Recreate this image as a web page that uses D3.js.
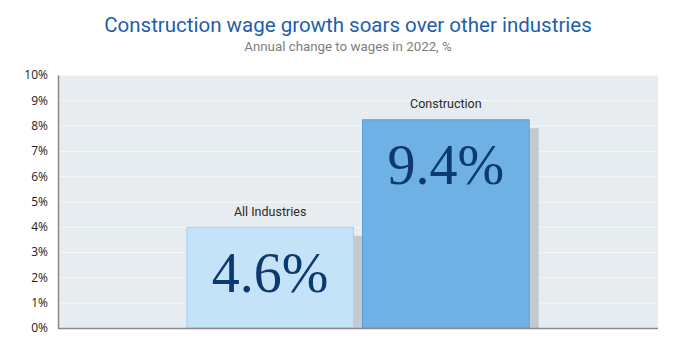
<!DOCTYPE html>
<meta charset="utf-8">
<script src="https://d3js.org/d3.v7.min.js"></script>
<style>
  body { margin: 0; background: #fff; }
  text { font-family: Roboto, sans-serif; }
</style>
<div id="chart"></div>
<script>
// Data
var categories = ["All Industries", "Construction"];
var valueLabels = ["4.6%", "9.4%"];
var barHeights = [4.0, 8.25];   // drawn height of each bar, in % units on the axis
var yTicks = [0, 1, 2, 3, 4, 5, 6, 7, 8, 9, 10];
var barFills = ["#c4e2f8", "#6fb1e4"];
var barStrokes = ["#a8d1f0", "#5b9fd9"];

var W = 696, H = 361;
var margin = {top: 75, right: 38, bottom: 33, left: 58},
    width = W - margin.left - margin.right,
    height = H - margin.top - margin.bottom;

var svg = d3.select("#chart")
  .append("svg")
    .attr("width", W)
    .attr("height", H);

// Titles
svg.append("text")
  .attr("x", W / 2).attr("y", 32)
  .attr("text-anchor", "middle")
  .style("font-size", "20.5px")
  .style("fill", "#1d5eae")
  .text("Construction wage growth soars over other industries");

svg.append("text")
  .attr("x", W / 2).attr("y", 51)
  .attr("text-anchor", "middle")
  .style("font-size", "13.3px")
  .style("fill", "#7d7d7d")
  .text("Annual change to wages in 2022, %");

var g = svg.append("g")
  .attr("transform", "translate(" + margin.left + "," + margin.top + ")");

var x = d3.scaleBand()
  .domain(categories)
  .range([0, width])
  .paddingInner(0.046)
  .paddingOuter(0.73);

var y = d3.scaleLinear()
  .domain([0, 10])
  .range([height, 0]);

// Plot background
g.append("rect")
  .attr("width", width).attr("height", height)
  .style("fill", "#e6ecef");

// Grid lines
g.selectAll(".grid")
  .data(yTicks.slice(1))
  .enter().append("line")
    .attr("x1", 0).attr("x2", width)
    .attr("y1", function(d) { return y(d) + 0.5; })
    .attr("y2", function(d) { return y(d) + 0.5; })
    .style("stroke", "#f6f8f9")
    .style("stroke-width", 1);

// Y axis
var yAxis = g.append("g")
  .call(d3.axisLeft(y).tickValues(yTicks).tickSize(0).tickPadding(10)
    .tickFormat(function(d) { return d + "%"; }));
yAxis.select(".domain").style("stroke", "#8a8a8a").style("stroke-width", 1.5);
yAxis.selectAll("text")
  .style("font-family", "'Open Sans', sans-serif")
  .style("font-size", "12px")
  .style("fill", "#222");

// Shadows
var shadowOff = 9;
g.selectAll(".shadow")
  .data(categories)
  .enter().append("rect")
    .attr("x", function(d) { return x(d) + shadowOff; })
    .attr("y", function(d, i) { return y(barHeights[i]) + shadowOff; })
    .attr("width", x.bandwidth())
    .attr("height", function(d, i) { return height - y(barHeights[i]) - shadowOff; })
    .style("fill", "#c3c9ce");

// Bars
g.selectAll(".bar")
  .data(categories)
  .enter().append("rect")
    .attr("x", function(d) { return x(d) + 0.5; })
    .attr("y", function(d, i) { return y(barHeights[i]) + 0.5; })
    .attr("width", x.bandwidth() - 1)
    .attr("height", function(d, i) { return height - y(barHeights[i]) - 0.5; })
    .style("fill", function(d, i) { return barFills[i]; })
    .style("stroke", function(d, i) { return barStrokes[i]; })
    .style("stroke-width", 1);

// Bottom axis line
g.append("line")
  .attr("x1", 0).attr("x2", width)
  .attr("y1", height + 0.5).attr("y2", height + 0.5)
  .style("stroke", "#8a8a8a")
  .style("stroke-width", 1.5);

// Category labels
g.selectAll(".cat")
  .data(categories)
  .enter().append("text")
    .attr("x", function(d) { return x(d) + x.bandwidth() / 2; })
    .attr("y", function(d, i) { return y(barHeights[i]) - 11; })
    .attr("text-anchor", "middle")
    .style("font-size", "12.5px")
    .style("fill", "#2b2b2b")
    .text(function(d) { return d; });

// Value labels
g.selectAll(".val")
  .data(categories)
  .enter().append("text")
    .attr("x", function(d) { return x(d) + x.bandwidth() / 2; })
    .attr("y", function(d, i) { return y(barHeights[i]) + 65; })
    .attr("text-anchor", "middle")
    .style("font-family", "'Liberation Serif', serif")
    .style("font-size", "56px")
    .style("fill", "#0c3a70")
    .text(function(d, i) { return valueLabels[i]; });
</script>
